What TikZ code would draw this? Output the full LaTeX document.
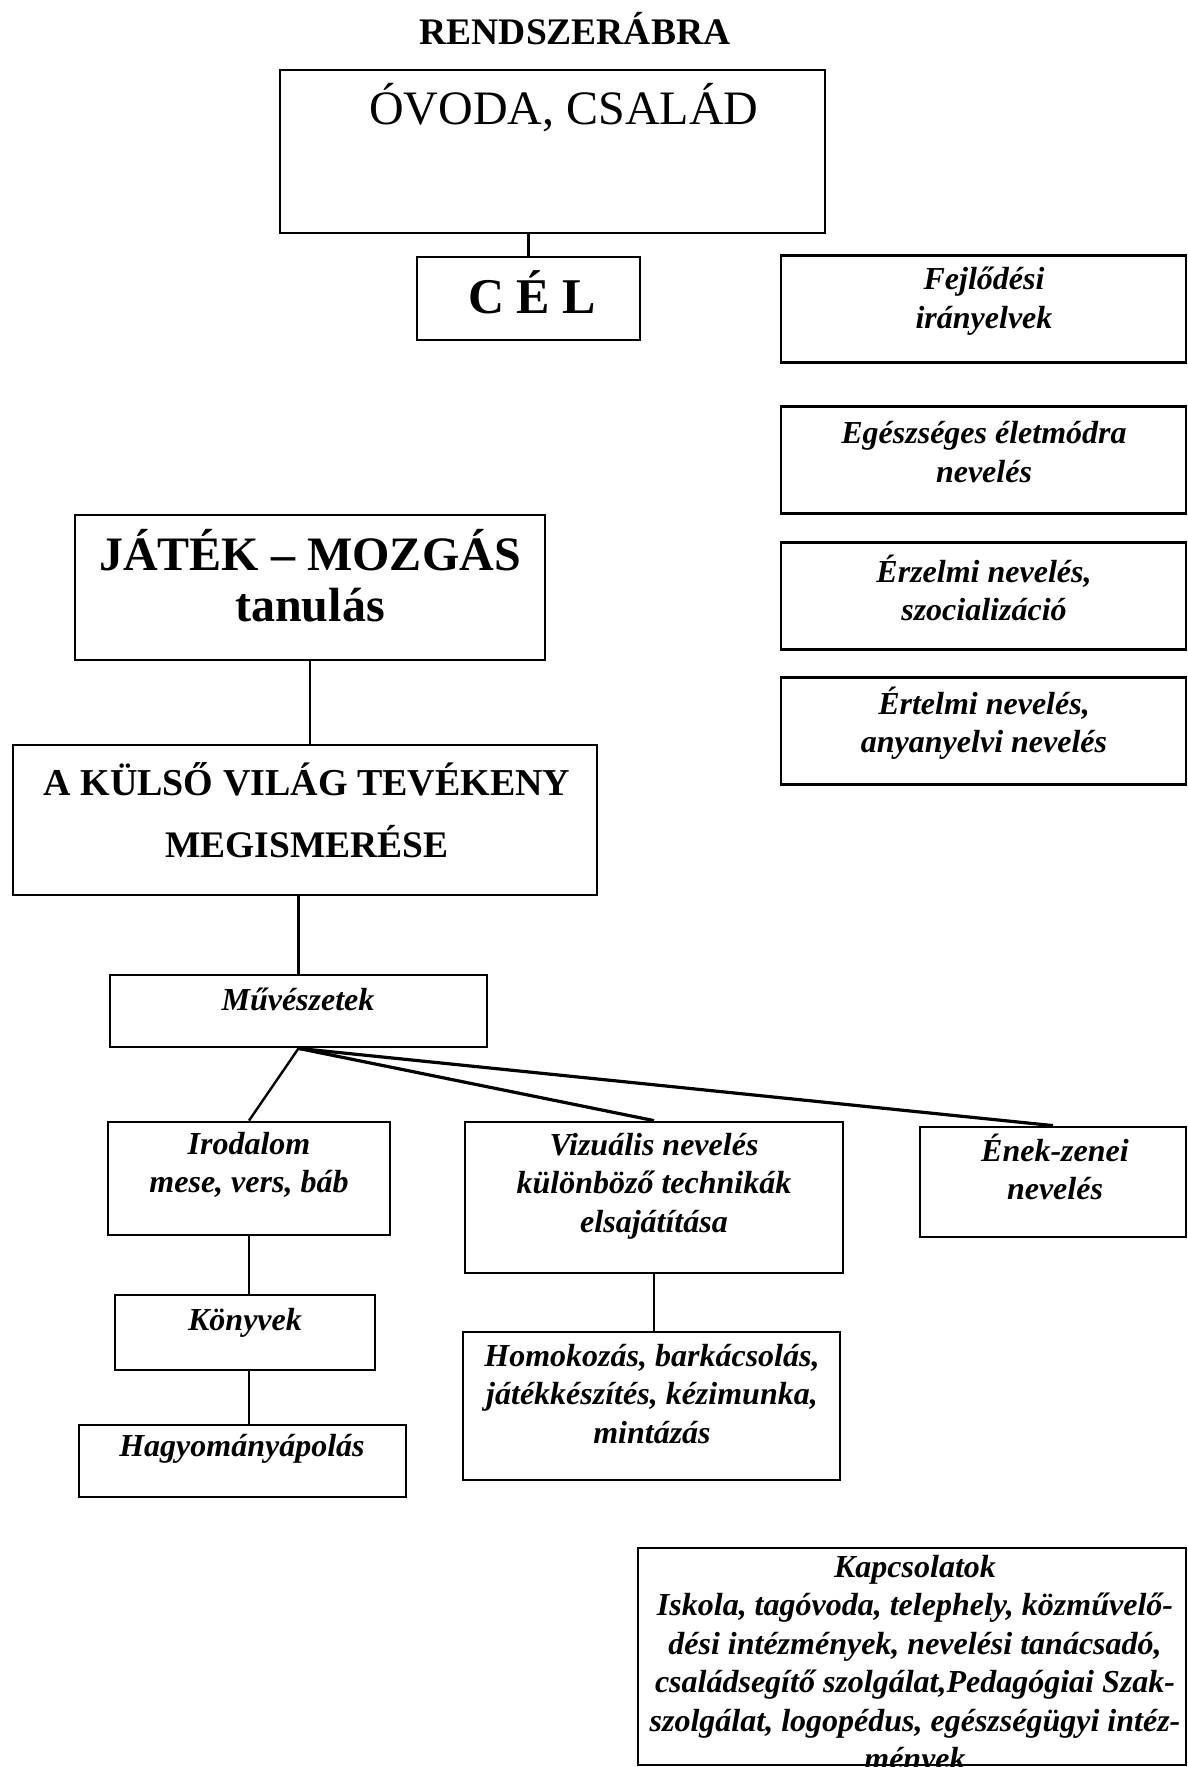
\documentclass[tikz,border=0pt]{standalone}
\usepackage{fontspec}
\setmainfont{Liberation Serif}

\begin{document}
\begin{tikzpicture}[x=1pt,y=-1pt,
  box/.style={draw,line width=2.8pt,inner sep=0pt},
  ital/.style={inner sep=0pt,align=center,font=\fontsize{32}{38.5}\selectfont\bfseries\itshape},
  caps/.style={inner sep=0pt,align=center,font=\fontsize{#1}{#1}\selectfont\bfseries},
  link/.style={line width=2.4pt},
  fan/.style={line width=3.2pt}]
\useasboundingbox (0,0) rectangle (1187,1767);

\node[caps=37.5,anchor=base] (title) at (575,44) {RENDSZERÁBRA};

% upper part
\node[box,minimum width=545pt,minimum height=163pt] (ovoda) at (552.5,151.5) {};
\node[inner sep=0pt,anchor=base,font=\fontsize{48}{54}\selectfont] (ovodaT) at (564,124) {ÓVODA, CSALÁD};
\node[box,minimum width=223pt,minimum height=83pt] (cel) at (528.5,298.5) {};
\node[caps=50,anchor=base] (celT) at (532,313) {C É L};
\draw[link] (cel.north |- ovoda.south) -- (cel.north);

% right column
\foreach \nm/\yc/\txt in {fejl/309/{Fejlődési\\irányelvek},
    egesz/460/{Egészséges életmódra\\nevelés},
    erzelmi/596/{Érzelmi nevelés,\\szocializáció},
    ertelmi/731/{Értelmi nevelés,\\anyanyelvi nevelés}}{
  \node[box,minimum width=405pt,minimum height=107pt] (\nm) at (983.5,\yc) {};
  \node[ital] (\nm T) at (984,\yc-8) {\txt};
}

% left column
\node[box,minimum width=470pt,minimum height=145pt] (jatek) at (310,587.5) {};
\node[caps=48] (jatekT) at (310,576) {JÁTÉK – MOZGÁS\\[3pt]tanulás};
\node[box,minimum width=584pt,minimum height=150pt] (kulso) at (305,820) {};
\node[caps=38] (kulsoT) at (307,810) {A KÜLSŐ VILÁG TEVÉKENY\\[24pt]\fontsize{37.5}{37.5}\selectfont MEGISMERÉSE};
\draw[link] (jatek.south) -- (jatek.south |- kulso.north);

\node[box,minimum width=377pt,minimum height=72pt] (muv) at (298.5,1011) {};
\node[ital] (muvT) at (298,999) {Művészetek};
\draw[link] (muv.north |- kulso.south) -- (muv.north);

\node[box,minimum width=282pt,minimum height=113pt] (irodalom) at (249,1178.5) {};
\node[ital] (irodalomT) at (249,1165) {Irodalom\\mese, vers, báb};
\node[box,minimum width=378pt,minimum height=151pt] (vizualis) at (654,1197.5) {};
\node[ital] (vizualisT) at (654,1186) {Vizuális nevelés\\különböző technikák\\elsajátítása};
\node[box,minimum width=266pt,minimum height=110pt] (enek) at (1053,1182) {};
\node[ital] (enekT) at (1055,1167) {Ének-zenei\\nevelés};
\draw[link] (muv.south) -- (irodalom.north);
\draw[fan] (muv.south) -- (vizualis.north);
\draw[fan] (muv.south) -- (enek.north);

\node[box,minimum width=260pt,minimum height=75pt] (konyvek) at (245,1332.5) {};
\node[ital] (konyvekT) at (245,1323) {Könyvek};
\node[box,minimum width=327pt,minimum height=72pt] (hagyomany) at (242.5,1461) {};
\node[ital] (hagyomanyT) at (242,1449) {Hagyományápolás};
\draw[link] (irodalom.south) -- (irodalom.south |- konyvek.north);
\draw[link] (irodalom.south |- konyvek.south) -- (irodalom.south |- hagyomany.north);

\node[box,minimum width=377pt,minimum height=148pt] (homok) at (651.5,1406) {};
\node[ital] (homokT) at (652,1394) {Homokozás, barkácsolás,\\játékkészítés, kézimunka,\\mintázás};
\draw[link] (vizualis.south) -- (vizualis.south |- homok.north);

% bottom right
\node[box,minimum width=548pt,minimum height=217pt] (kapcs) at (912,1656.5) {};
\node[ital] (kapcsT) at (915,1666) {Kapcsolatok\\Iskola, tagóvoda, telephely, közművelő-\\dési intézmények, nevelési tanácsadó,\\családsegítő szolgálat,Pedagógiai Szak-\\szolgálat, logopédus, egészségügyi intéz-\\mények};
\end{tikzpicture}
\end{document}
